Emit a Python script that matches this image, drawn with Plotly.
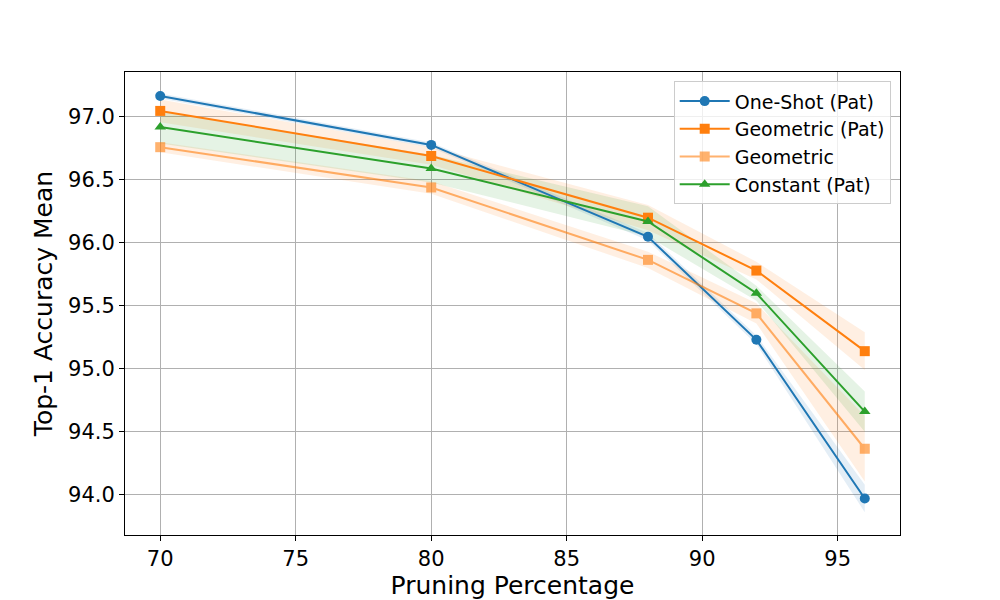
import plotly.graph_objects as go

pruning = [70, 80, 88, 92, 96]

oneshot_mean = [97.167, 96.778, 96.048, 95.23, 93.97]
oneshot_std = [0.02, 0.02, 0.03, 0.035, 0.11]

geo_pat_mean = [97.048, 96.69, 96.2, 95.78, 95.14]
geo_pat_std = [0.09, 0.07, 0.1, 0.07, 0.15]

geo_mean = [96.76, 96.44, 95.865, 95.44, 94.365]
geo_std = [0.04, 0.05, 0.065, 0.08, 0.26]

const_mean = [96.92, 96.59, 96.17, 95.6, 94.66]
const_std = [0.13, 0.11, 0.12, 0.06, 0.16]

x_ticks = [70, 75, 80, 85, 90, 95]
y_ticks = [94.0, 94.5, 95.0, 95.5, 96.0, 96.5, 97.0]

series = [
    ("One-Shot (Pat)", oneshot_mean, oneshot_std, "rgb(31,119,180)", 1.0, "circle", "rgba(31,119,180,0.12)"),
    ("Geometric (Pat)", geo_pat_mean, geo_pat_std, "rgb(255,127,14)", 1.0, "square", "rgba(255,127,14,0.12)"),
    ("Geometric", geo_mean, geo_std, "rgb(255,127,14)", 0.6, "square", "rgba(255,127,14,0.12)"),
    ("Constant (Pat)", const_mean, const_std, "rgb(44,160,44)", 1.0, "triangle-up", "rgba(44,160,44,0.12)"),
]

fig = go.Figure()

for name, m, s, col, op, sym, fillcol in series:
    upper = [a + b for a, b in zip(m, s)]
    lower = [a - b for a, b in zip(m, s)]
    fig.add_trace(go.Scatter(
        x=pruning + pruning[::-1], y=upper + lower[::-1],
        fill="toself", fillcolor=fillcol, line=dict(width=0),
        mode="lines", showlegend=False, hoverinfo="skip"))

for name, m, s, col, op, sym, fillcol in series:
    fig.add_trace(go.Scatter(
        x=pruning, y=m, name=name, mode="lines+markers",
        line=dict(color=col, width=2),
        marker=dict(symbol=sym, size=10, color=col),
        opacity=op))

axis_common = dict(
    showgrid=True, gridcolor="#b0b0b0", gridwidth=1,
    showline=True, linecolor="black", linewidth=1, mirror=True,
    ticks="outside", ticklen=5, tickcolor="black",
    tickfont=dict(family="DejaVu Sans", size=21, color="black"),
    zeroline=False, automargin=False,
)

fig.update_layout(
    width=1000, height=600,
    margin=dict(l=125, r=100, t=72, b=65),
    paper_bgcolor="white", plot_bgcolor="white",
    font=dict(family="DejaVu Sans", color="black"),
    xaxis=dict(range=[68.7, 97.3], tickvals=x_ticks,
               title=dict(text="Pruning Percentage", font=dict(size=25), standoff=5),
               **axis_common),
    yaxis=dict(range=[93.68, 97.357], tickvals=y_ticks, tickformat=".1f",
               title=dict(text="Top-1 Accuracy Mean", font=dict(size=25), standoff=8),
               **axis_common),
    legend=dict(x=0.988, y=0.98, xanchor="right", yanchor="top",
                bgcolor="rgba(255,255,255,0.8)", bordercolor="#cccccc", borderwidth=1,
                font=dict(family="DejaVu Sans", size=19), tracegroupgap=0,
                itemwidth=50),
    showlegend=True,
)

fig.write_html("out.html")
